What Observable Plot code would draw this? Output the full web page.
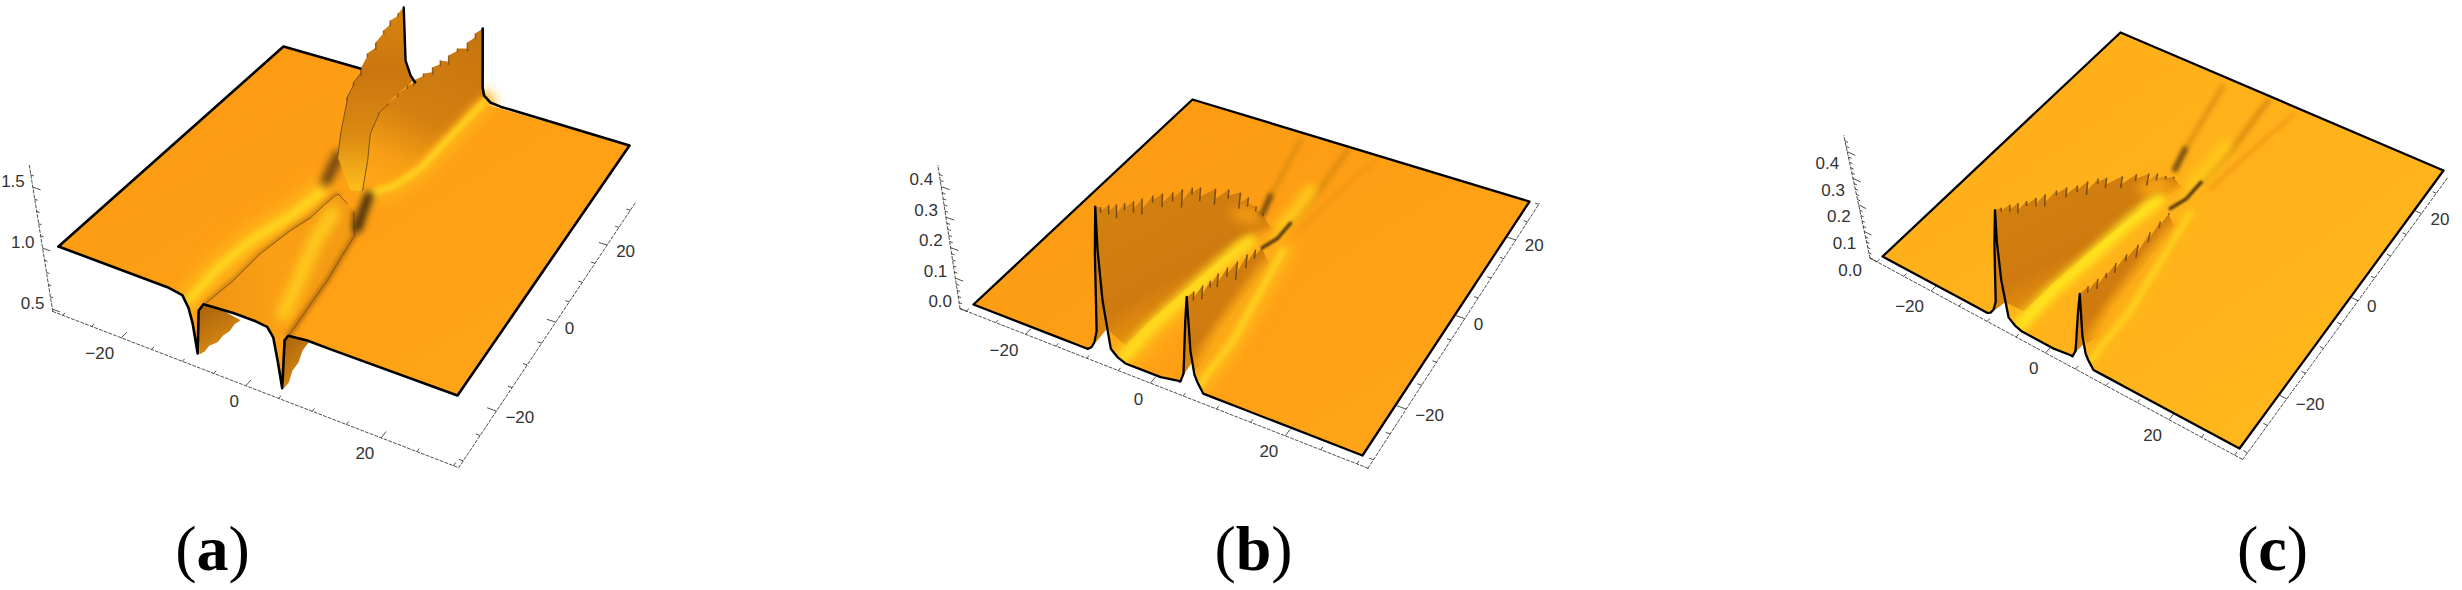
<!doctype html>
<html><head><meta charset="utf-8">
<script src="https://cdn.jsdelivr.net/npm/d3@7"></script>
<script src="https://cdn.jsdelivr.net/npm/@observablehq/plot@0.6"></script>
<style>html,body{margin:0;background:#fff}svg{display:block}</style></head>
<body><div id="chart"></div>
<script>
// ---------- values: [u, v, z] or [u, z] on the front edge v = -30 ----------
const aProfile=[[-12.1,1],[-9.8,.98],[-9.0,.89],[-8.6,.77],[-8.3,.53],[-7.4,.90],[-6.5,.97],[-1.9,.99],[1.5,.99],[3.2,.98],[4.0,.91],[4.4,.73],[4.8,.51],[5.7,.92],[6.3,.97],[9.1,.99],[12.5,.99]];
const aCrest1=[[-7.5,30.2,1.6],[-7.5,28.2,1.6],[-7.6,25.8,1.6],[-7.5,23.4,1.58],[-7.3,20.4,1.56],[-7.3,17.7,1.54],[-6.9,14.8,1.5],[-6.4,11.6,1.48],[-5.8,8.5,1.45],[-4.6,4.1,1.3],[-4.4,2.6,1.15]];
const aCrest1Depth=[0,.02,.03,.02,.04,.02,.04,.02,.02,0,0];
const aCrest2=[[6.1,29.8,1.62],[5.7,28,1.62],[5.4,25.8,1.6],[4.8,23.6,1.6],[4.2,21.8,1.58],[3.7,20,1.58],[3.2,18.4,1.56],[2.6,16.6,1.55],[1.7,15.1,1.52],[1.2,14.1,1.5],[.6,12.1,1.48],[.2,9.7,1.46],[.1,7.1,1.45],[-.1,4.8,1.35],[1.2,1.4,1.25],[1.8,-1.5,1.1]];
const aCrest2Depth=[0,.03,.05,.02,.05,.03,.04,.02,.03,.02,.02,.01,.01,0,0,0];
const aBack=[[-3.6,22.9,1.4],[-4.2,25.6,1.2],[-4.3,27.3,1.1],[7,27.8,1.2],[6.7,29,1.1],[7.2,30.2,1.02],[8.8,30.5,1]];
const aBand1=[[-8.2,-30.9,1],[-8.4,-23.6,1],[-7.7,-16.4,1],[-5.7,-8.9,1],[-4.7,-2.2,1]];
const aBand2=[[1.8,1.3,1],[3.9,4.4,1],[5.2,9.9,1],[5.6,20.4,1],[6,30.3,1]];
const aTongue=[[-5.9,-30.3,1],[-5.2,-24.7,1],[-5,-18.1,1],[-4,-11.9,1],[-3,-8,1],[-2.8,-4.7,1],[-2.5,-1.8,1],[-2.2,-1.4,1],[-.1,-2.7,1],[1.7,-4.1,1],[4.3,-8.6,1],[4.9,-13.2,1],[5.7,-18.8,1],[6.1,-23.8,1],[6.6,-29.1,1],[6.7,-30.5,1]];
const aStripe=[[4,-27.2,1],[2.1,-19.6,1],[.1,-12.1,1],[-.8,-5.7,1]];
const aSpot1=[[-6.9,7,1],[-6.1,3.7,1],[-5.4,.7,1]];
const aSpot2=[[1.7,.4,1],[2.8,-3.5,1],[3.9,-7,1]];
const aFloor=[[-1.2,.2,1],[1.8,1.3,1],[4.9,10.5,1],[5.7,29.2,1]];
const aWedge1=[[-10.5,-26,.7],[-10.3,-24.7,.7],[-8.9,-24.2,.7],[-4.4,-25,.7],[-4.7,-26,.7],[-4.5,-27.6,.7],[-4.8,-28.7,.7],[-4.7,-30.2,.7],[-5.3,-31.3,.7],[-5.2,-32.5,.7],[-5.5,-33.3,.7]];
const aWedge2=[[2.8,-25.7,.7],[3.1,-24.6,.7],[4.5,-24.3,.7],[5.8,-24.5,.7],[5.9,-26.2,.7],[6.6,-28.5,.7],[6.7,-30.2,.7],[7.4,-32.3,.7],[7.4,-33.6,.7]];

const bProfile=[[-15.3,0],[-12.1,0],[-10.9,0],[-10.3,.01],[-9.8,.03],[-9.4,.07],[-9.4,.17],[-9.4,.33],[-9.2,.48],[-9,.34],[-8.4,.18],[-7.7,.09],[-7.2,.03],[-6.1,.01],[-4.9,0],[-3,0],[.6,0],[3.2,.01],[3.6,.01],[4,.04],[3.9,.12],[3.8,.21],[3.8,.29],[4.2,.22],[4.8,.12],[5.6,.05],[6.1,.03],[7.1,0],[9.2,0],[12.6,0]];
const bSliver1=[[-9.2,.48],[-9.4,.33],[-9.4,.17],[-9.6,.03],[-7.8,.09],[-8.4,.18],[-9,.34]];
const bSliver2=[[3.8,.29],[3.8,.21],[3.9,.12],[3.7,.02],[5.2,.09],[4.8,.12],[4.2,.22]];
const bCrest1=[[-9.6,-28.3,.45],[-9.3,-27,.44],[-8.9,-25.9,.43],[-8.5,-24.7,.42],[-8.1,-23.3,.41],[-7.8,-21.8,.40],[-7.3,-20.1,.39],[-6.8,-18.6,.38],[-6.1,-17.2,.37],[-5.7,-15.5,.36],[-5.1,-14,.35],[-4.5,-12.9,.34],[-3.6,-10.4,.31],[-2.9,-7.9,.28],[-2.4,-5.3,.24],[-2.4,-2.6,.19],[-2.5,.6,.12],[-2.6,3.7,.06]];
const bCrest1Depth=[.012,.02,.03,.015,.025,.035,.015,.03,.02,.04,.015,.03,.035,.02,.035,.02,.01,.005];
const bCrest2=[[3.6,-29.6,.28],[3.5,-27.7,.27],[3.6,-25.7,.26],[3.7,-23.9,.25],[3.3,-21.1,.23],[3.2,-18.4,.21],[2.9,-15,.18],[2.2,-10.7,.14],[1.3,-6.2,.09],[.5,-2.1,.04]];
const bCrest2Depth=[0,.02,.03,.015,.03,.02,.04,.03,.02,.005];
const bFoot1=[[-1.7,5.1,0],[-2.5,1.9,0],[-4,-1.6,0],[-5.5,-12,0],[-6.5,-21.1,0],[-6.8,-27,0],[-7.7,-30,.09],[-8.4,-30,.18],[-9,-30,.34]];
const bFoot2=[[1.8,-2.2,0],[2.2,-9.8,0],[2.9,-19.5,0],[4.1,-25.6,0],[3.8,-26.8,0],[4.8,-30,.12],[4.2,-30,.22]];
const bBand1=[[-5.8,-29.4,0],[-5.8,-22.3,0],[-4.9,-13,0],[-4.1,-4.3,0],[-3,1.1,0]];
const bBand2=[[6,-28.9,0],[5.7,-26.5,0],[5.5,-19.2,0],[3.2,-4.2,0],[2.4,1.3,0]];
const bFade=[[-2.4,-5.3,.17],[-2.4,-2.6,.14],[-2.5,.6,.08]];
const bStreak1=[[-.6,.5,0],[.3,3.4,0],[.3,7.6,0]];
const bStreak2=[[.3,7.6,0],[.5,16.3,0],[-.5,29,0]];
const bStreak3=[[-4.5,7.7,0],[-5.6,12.3,0],[-8.4,27.9,0]];
const bGlow=[[-.9,3.6,0],[-.4,10,0],[-.8,16.4,0]];
const bFaint=[[2.2,7.2,0],[3.3,18.7,0],[4.6,28.6,0]];

const tickU=[-30,-25,-20,-15,-10,-5,0,5,10,15,20,25,30];
const labelU=[-20,0,20];
const tickZa=[.5,.6,.7,.8,.9,1,1.1,1.2,1.3,1.4,1.5,1.6];
const labelZa=[.5,1,1.5];
const tickZb=[0,.02,.04,.06,.08,.1,.12,.14,.16,.18,.2,.22,.24,.26,.28,.3,.32,.34,.36,.38,.4,.42,.44];
const labelZb=[0,.1,.2,.3,.4];

// ---------- the three views ----------
function view(L,F,R,B,k,z0,cx,D,zs,box,zTop,ticksZ,labelsZ,labelDy){
  const dx1=F[0]-R[0],dx2=B[0]-R[0],sx=L[0]-F[0]+R[0]-B[0],dy1=F[1]-R[1],dy2=B[1]-R[1],sy=L[1]-F[1]+R[1]-B[1];
  const den=dx1*dy2-dx2*dy1,g=(sx*dy2-dx2*sy)/den,h=(dx1*sy-sx*dy1)/den;
  return {a:F[0]-L[0]+g*F[0],b:B[0]-L[0]+h*B[0],c:L[0],d:F[1]-L[1]+g*F[1],e:B[1]-L[1]+h*B[1],f:L[1],g,h,k,z0,cx,D,zs,box,zTop,ticksZ,labelsZ,labelDy};
}
const viewA=view([58,246],[457,395],[629,145],[283,46],122,1,480,2729,1,{u0:-31.7,u1:30.7,v0:-31.3,v1:32.1,z:.48},1.68,tickZa,labelZa,-5);
const viewB=view([973,304],[1362,455],[1529,201],[1192,99],305,0,1120,1040,1,{u0:-31.1,u1:31.5,v0:-31.6,v1:30.2,z:0},.47,tickZb,labelZb,-7);
const viewC=view([1882,256],[2239,448],[2443,170],[2120,32],266,0,2010,657,.846,{u0:-31.3,u1:31.2,v0:-31.2,v1:28.8,z:0},.46,tickZb,labelZb,12);

function project(P,[u,v,z],zs=P.zs){
  const s=(u+30)/60,t=(v+30)/60,w=P.g*s+P.h*t+1;
  const x0=(P.a*s+P.b*t+P.c)/w,y0=(P.d*s+P.e*t+P.f)/w,l=P.k*(z-P.z0)*zs;
  return {x:x0+(x0-P.cx)*l/P.D,y:y0-l};
}
const edge=l=>l.map(([u,z])=>[u,-30,z]);
const corners=P=>[[-30,-30,P.z0],[30,-30,P.z0],[30,30,P.z0],[-30,30,P.z0]];
const saw=(c,d)=>c.flatMap((p,i)=>d[i]?[p,[p[0],p[1],p[2]-d[i]]]:[p]);
const XY={x:"x",y:"y"};
const poly=(P,pts,fill,o={})=>Plot.line(pts.map(p=>project(P,p)),{...XY,fill,stroke:"none",...o});
const path=(P,pts,stroke,w,o={})=>Plot.line(pts.map(p=>project(P,p)),{...XY,stroke,strokeWidth:w,strokeLinejoin:"round",strokeLinecap:"round",...o});
const soft=(P,pts,stroke,w,b,o={})=>path(P,pts,stroke,w,{imageFilter:`blur(${b}px)`,...o});
const teeth=(P,c,d,stroke)=>Plot.link(c.filter((_,i)=>d[i]).map(p=>{const i=c.indexOf(p),a=project(P,p),b=project(P,[p[0],p[1],p[2]-d[i]*1.5]);return {x1:a.x,y1:a.y,x2:b.x,y2:b.y}}),{x1:"x1",y1:"y1",x2:"x2",y2:"y2",stroke,strokeWidth:1.5,strokeOpacity:.8});
const skirt=(P,prof)=>poly(P,[[-30,-30,P.z0],...edge(prof),[30,-30,P.z0],[32,-50,P.z0],[-32,-50,P.z0]],"#fff");

function axes(P){
  const {u0,u1,v0,v1,z}=P.box, dash={stroke:"#222",strokeWidth:.8,strokeDasharray:"3 2"};
  const ln=(a,b)=>Plot.line([project(P,a,1),project(P,b,1)],{...XY,...dash});
  const seg=(a,b)=>{const A=project(P,a,1),B=project(P,b,1);return {x1:A.x,y1:A.y,x2:B.x,y2:B.y}};
  const label={fontFamily:"Liberation Sans",fontSize:17,fill:"#333"};
  const fmt=d=>d<0?"\u2212"+(-d):String(d);
  const uPos=d=>project(P,[d,v0,z],1), vPos=d=>project(P,[u1,d,z],1), zPos=d=>project(P,[u0,v0,d],1);
  const tk={x1:"x1",y1:"y1",x2:"x2",y2:"y2",stroke:"#222",strokeWidth:.8};
  return [
    ln([u0,v0,z],[u1,v0,z]), ln([u1,v0,z],[u1,v1,z]), ln([u0,v0,z],[u0,v0,P.zTop]),
    Plot.link(tickU.map(d=>seg([d,v0,z],[d,v0+(labelU.includes(d)?1.3:.6),z])),tk),
    Plot.link(tickU.filter(d=>d<=v1&&d>=v0).map(d=>seg([u1,d,z],[u1-(labelU.includes(d)?1.3:.6),d,z])),tk),
    Plot.link(P.ticksZ.map(d=>seg([u0,v0,d],[u0+(P.labelsZ.includes(d)?1.3:.5),v0,d])),tk),
    Plot.text(labelU,{x:d=>uPos(d).x,y:d=>uPos(d).y,text:fmt,textAnchor:"end",dx:-7,dy:16,...label}),
    Plot.text(labelU,{x:d=>vPos(d).x,y:d=>vPos(d).y,text:fmt,textAnchor:"start",dx:9,dy:6,...label}),
    Plot.text(P.labelsZ,{x:d=>zPos(d).x,y:d=>zPos(d).y,text:d=>d.toFixed(1),textAnchor:"end",dx:-8,dy:P.labelDy,...label})
  ];
}

function panelA(P){
  const base=[...corners(P).slice(0,1),...edge(aProfile),...corners(P).slice(1)];
  const ridgeA=[...saw(aCrest1,aCrest1Depth),aFloor[0],...[...aCrest2.slice(8)].reverse(),aBack[2],aBack[1],aBack[0]];
  const ridgeB=[...saw(aCrest2,aCrest2Depth),aFloor[1],aFloor[2],aFloor[3],aBack[4],aBack[3]];
  const tongue=[...aTongue,[4,-30,.91],[3.2,-30,.98],[1.5,-30,.99],[-1.9,-30,.99],[-6.5,-30,.97]];
  return [
    poly(P,base,"url(#basea)"),
    soft(P,aBand1,"#ffb61a",26,8),
    soft(P,aBand1,"#ffd81e",8,3),
    soft(P,aBand2,"#ffb61a",22,7),
    soft(P,aSpot1,"#5f3c10",10,4),
    poly(P,ridgeA,"url(#ridgea)"),
    poly(P,ridgeB,"url(#ridgeb)"),
    teeth(P,aCrest1,aCrest1Depth,"#7a4a10"),
    teeth(P,aCrest2,aCrest2Depth,"#7a4a10"),
    path(P,saw(aCrest1,aCrest1Depth).slice(12),"#7a5212",1),
    path(P,saw(aCrest2,aCrest2Depth).slice(22),"#7a5212",1),
    soft(P,aBand2,"#ffa516",12,5),
    soft(P,aBand2,"#ffd21e",7,2.5),
    soft(P,aTongue.slice(0,8),"#c97f12",5,2),
    poly(P,tongue,"url(#tonguea)"),
    soft(P,aStripe,"#ffc81c",15,5),
    soft(P,aTongue.slice(9),"#bb6f0f",5,2),
    path(P,aTongue.slice(0,9),"#7a5212",.9),
    path(P,aTongue.slice(9),"#7a5212",.9),
    soft(P,aSpot2,"#3f2a0c",9,3.5),
    skirt(P,aProfile),
    poly(P,aWedge1,"url(#wedge)"),
    poly(P,aWedge2,"url(#wedge)"),
    path(P,[[-30,-30,1],...edge(aProfile),[30,-30,1],[30,30,1],...[...aBack.slice(3)].reverse(),aCrest2[0]],"#000",2.6),
    path(P,[[-30,-30,1],[-30,30,1],[-15.6,30,1]],"#000",2.6),
    path(P,[aCrest1[0],aBack[0],aBack[1],aBack[2],aCrest2[8]],"#000",2.4)
  ];
}

function panelB(P,baseFill,core,plane){
  const base=[...corners(P).slice(0,1),...edge(bProfile),...corners(P).slice(1)];
  const wall1=[[-9.2,-30,.48],...saw(bCrest1,bCrest1Depth),...bFoot1];
  const wall2=[[3.8,-30,.29],...saw(bCrest2,bCrest2Depth),...bFoot2];
  return [
    poly(P,edge(bSliver1),"#d9860f"),
    poly(P,edge(bSliver2),"#d9860f"),
    poly(P,base,baseFill),
    soft(P,bFaint,"#ef9513",3,2),
    soft(P,bStreak3,"#d98a12",4,2.5),
    soft(P,bStreak2,"#d98a12",5,2.5),
    soft(P,bGlow,"#ffc81a",13,5),
    soft(P,bBand1,"#ffb61a",32,10),
    soft(P,bBand2,"#ffb61a",22,7),
    poly(P,wall1,"url(#wall)"),
    soft(P,bFade,plane,14,6),
    soft(P,bFoot1.slice(0,3),plane,9,3.5),
    teeth(P,bCrest1,bCrest1Depth,"#5f3c10"),
    soft(P,bBand1,core,12,4),
    poly(P,wall2,"url(#wall)"),
    teeth(P,bCrest2,bCrest2Depth,"#5f3c10"),
    soft(P,bFoot2.slice(0,4),"#f8a816",11,4.5),
    soft(P,bBand2,"#ffd21e",6,2.5),
    soft(P,bStreak1,"#5a3a10",3.5,1.2),
    soft(P,[bStreak3[0],bStreak3[1]],"#6e4610",5,2.2),
    skirt(P,bProfile),
    poly(P,edge(bSliver1),"#d9860f"),
    poly(P,edge(bSliver2),"#d9860f"),
    path(P,[[-30,-30,0],...edge(bProfile),[30,-30,0],[30,30,0],[-30,30,0],[-30,-30,0]],"#000",2.3)
  ];
}

const defs=()=>{const g=d3.create("svg:defs");
  const grad=(id,x1,y1,x2,y2,stops)=>{const n=g.append("linearGradient").attr("id",id).attr("x1",x1).attr("y1",y1).attr("x2",x2).attr("y2",y2);
    stops.forEach(([o,c])=>n.append("stop").attr("offset",o).attr("stop-color",c));};
  grad("basea",0,0,1,1,[[0,"#fb9a12"],[.6,"#ffa015"],[1,"#ffa818"]]);
  grad("baseb",0,0,1,1,[[0,"#fb9a12"],[.6,"#ffa015"],[1,"#ffa818"]]);
  grad("basec",0,0,1,1,[[0,"#ffae1a"],[.6,"#ffb31b"],[1,"#ffbb1c"]]);
  grad("ridgea",0,0,0,1,[[0,"#d88410"],[.35,"#c9760f"],[.7,"#db8a12"],[1,"#ffbe1c"]]);
  grad("ridgeb",.7,0,.35,1,[[0,"#c8750f"],[.55,"#d28010"],[.85,"#f79e14"],[1,"#ffa516"]]);
  grad("tonguea",0,.5,1,.5,[[0,"#ee9412"],[.5,"#fba015"],[1,"#f29a13"]]);
  grad("wall",.2,.05,.7,.85,[[0,"#d2800f"],[.6,"#cf7a0f"],[.82,"#e4900f"],[1,"#ffc41a"]]);
  grad("wedge",0,0,.5,1,[[0,"#a9620d"],[.6,"#c67a10"],[1,"#e08e12"]]);
  return g.node();};

const captions=[{t:"(a)",x:212},{t:"(b)",x:1253},{t:"(c)",x:2272}];

const chart=Plot.plot({width:2462,height:590,margin:0,
  x:{domain:[0,2462],axis:null},y:{domain:[590,0],axis:null},
  marks:[defs,
    ...panelA(viewA),
    ...panelB(viewB,"url(#baseb)","#ffdf1e","#f59c14"),
    ...panelB(viewC,"url(#basec)","#ffe81e","#fda916"),
    ...axes(viewA),...axes(viewB),...axes(viewC),
    Plot.text(captions,{x:"x",y:()=>549,text:"t",fontFamily:"Liberation Serif",fontSize:64,fill:"#000"})
  ]});
d3.select(chart).selectAll("text").filter(function(){return /^\([abc]\)$/.test(this.textContent)}).each(function(){
  const l=this.textContent[1],s=d3.select(this);s.text(null);
  s.append("tspan").text("(");s.append("tspan").attr("font-weight","bold").text(l);s.append("tspan").text(")");
});
document.getElementById("chart").append(chart);
</script></body></html>
